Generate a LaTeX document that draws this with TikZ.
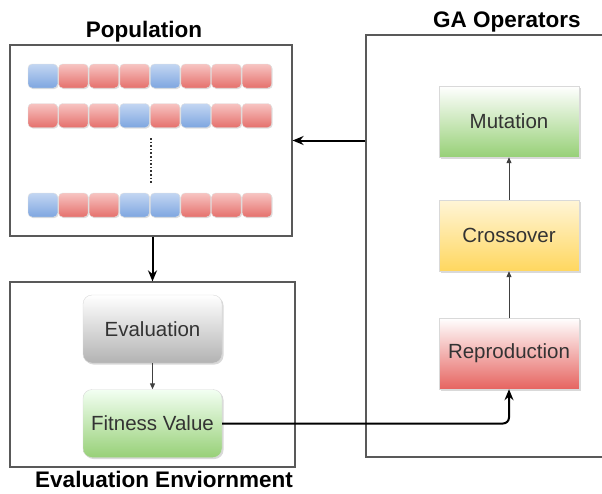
\documentclass[tikz,border=0pt]{standalone}
\usepackage{fontspec}
\setmainfont{Liberation Sans}
\usetikzlibrary{positioning,shadows,arrows.meta}
\definecolor{b1}{HTML}{C3D6F2}
\definecolor{b2}{HTML}{7EA6E0}
\definecolor{r1}{HTML}{F7C4C2}
\definecolor{r2}{HTML}{E5706C}
\definecolor{txtgray}{HTML}{333333}
\begin{document}
\begin{tikzpicture}[x=1pt,y=-1pt,
    lbl/.style={font=\fontsize{20.5}{24}\selectfont, text=txtgray},
    ttl/.style={font=\fontsize{22.5}{26}\selectfont\bfseries, anchor=base, inner sep=1pt},
    frame/.style={draw=black!65, line width=1.2pt, inner sep=0pt},
    opbox/.style={lbl, draw=black!15, minimum width=140pt, minimum height=71pt,
        drop shadow={opacity=0.3, shadow xshift=1.5pt, shadow yshift=-1.5pt}},
    evbox/.style={opbox, rounded corners=9pt, minimum width=139pt, minimum height=68pt},
    cell/.style={draw=black!12, rounded corners=4pt, minimum width=29.5pt,
        minimum height=24pt, inner sep=0pt,
        drop shadow={opacity=0.25, shadow xshift=1pt, shadow yshift=-1pt}},
    bigarrow/.style={line width=2pt, -{Stealth[length=11pt,width=9pt]}},
    thinarrow/.style={draw=black!75, line width=1pt, -{Triangle[length=6pt,width=5pt]}}]
  \useasboundingbox (0,0) rectangle (602,493);

  % frames and their titles
  \node[frame, minimum width=282pt, minimum height=191pt] (pop) at (151,140.5) {};
  \node[frame, minimum width=285pt, minimum height=185pt] (evalenv) at (152.5,374.5) {};
  \node[frame, minimum width=244pt, minimum height=422pt] (gaops) at (488,246) {};
  \node[ttl] (poptitle) at (144,37) {Population};
  \node[ttl] (gatitle) at (507,27) {GA Operators};
  \node[ttl] (envtitle) at (164,487) {Evaluation Enviornment};

  % chromosomes
  \foreach \c [count=\i from 0] in {b,r,r,r,b,r,r,r}
    \node[cell, top color=\c1, bottom color=\c2] (ca\i) at (42.75+30.6*\i,76) {};
  \foreach \c [count=\i from 0] in {r,r,r,b,r,b,r,r}
    \node[cell, top color=\c1, bottom color=\c2] (cb\i) at (42.75+30.6*\i,115.5) {};
  \foreach \c [count=\i from 0] in {b,r,r,b,b,r,r,r}
    \node[cell, top color=\c1, bottom color=\c2] (cc\i) at (42.75+30.6*\i,205) {};
  \coordinate (dottop) at (151,138);
  \coordinate (dotbot) at (151,183);
  \draw[black!80, line width=1.3pt, dash pattern=on 1.6pt off 2pt] (dottop) -- (dotbot);

  % evaluation
  \node[evbox, top color=white, bottom color=black!30] (evaluation) at (152.5,329) {Evaluation};
  \node[evbox, top color=green!5, bottom color={rgb,255:red,151;green,208;blue,119}] (fitness) at (152.5,423.5) {Fitness Value};

  % operators
  \node[opbox, top color=white, bottom color={rgb,255:red,151;green,208;blue,119}] (mutation) at (509,121.5) {Mutation};
  \node[opbox, top color={rgb,255:red,255;green,245;blue,215}, bottom color={rgb,255:red,255;green,215;blue,95}] (crossover) at (509,235.5) {Crossover};
  \node[opbox, top color=white, bottom color={rgb,255:red,230;green,100;blue,96}] (reproduction) at (509,353.5) {Reproduction};

  % connectors
  \draw[thinarrow] (evaluation) -- (fitness);
  \draw[thinarrow] (reproduction) -- (crossover);
  \draw[thinarrow] (crossover) -- (mutation);
  \draw[bigarrow] (evalenv.north |- pop.south) -- (evalenv.north);
  \draw[bigarrow] (gaops.west |- pop.east) -- (pop.east);
  \draw[bigarrow, rounded corners=6pt] (fitness.east) -- (reproduction.south |- fitness.east) -- (reproduction.south);
\end{tikzpicture}
\end{document}
